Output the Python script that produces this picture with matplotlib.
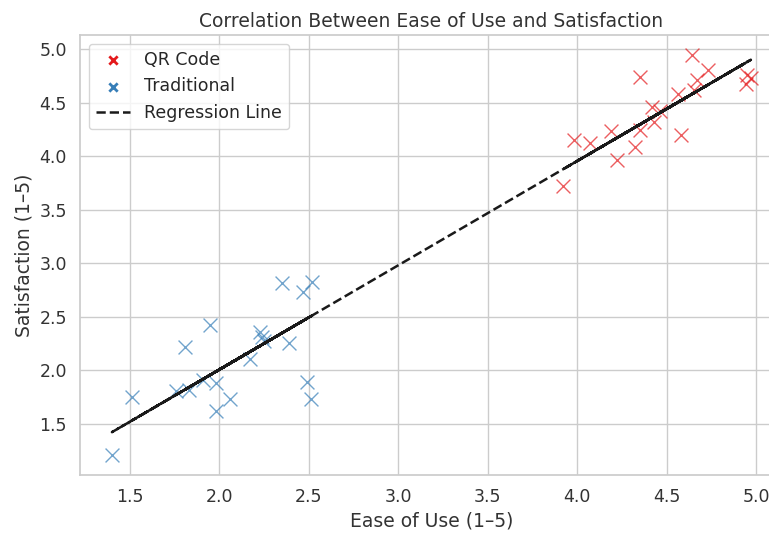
import matplotlib
matplotlib.use('Agg')
import matplotlib.pyplot as plt
import numpy as np
import seaborn as sns

sns.set_theme(style='whitegrid')
plt.rcParams['font.family'] = ['DejaVu Sans']

# Traditional group (ease, satisfaction), kept in survey order (not sorted)
trad_ease = [2.24, 1.40, 2.52, 1.76, 2.49, 1.51, 2.35, 1.98, 2.51, 1.81,
             2.23, 1.83, 2.47, 1.91, 2.39, 1.95, 2.17, 1.98, 2.25, 2.06]
trad_sat = [2.31, 1.21, 2.83, 1.81, 1.895, 1.755, 2.82, 1.62, 1.73, 2.22,
            2.36, 1.82, 2.73, 1.91, 2.26, 2.42, 2.11, 1.885, 2.27, 1.73]

# QR code group
qr_ease = [4.46, 3.92, 4.97, 4.07, 4.65, 3.98, 4.94, 4.22, 4.73, 4.19,
           4.58, 4.32, 4.95, 4.35, 4.64, 4.35, 4.67, 4.43, 4.56, 4.42]
qr_sat = [4.42, 3.72, 4.73, 4.12, 4.62, 4.15, 4.68, 3.965, 4.81, 4.24,
          4.20, 4.09, 4.76, 4.74, 4.945, 4.25, 4.71, 4.32, 4.58, 4.46]

x_all = np.array(qr_ease + trad_ease)
y_all = np.array(qr_sat + trad_sat)
slope, intercept = np.polyfit(x_all, y_all, 1)
# unsorted x, so the dashed line retraces itself inside each group
x_line = np.array(trad_ease + qr_ease)
y_line = slope * x_line + intercept

fig = plt.figure(figsize=(7.69, 5.33), dpi=100)
ax = fig.add_axes([0.104, 0.109, 0.914, 0.825])

ax.scatter(qr_ease, qr_sat, marker='x', s=100, color='#e41a1c', alpha=0.7,
           linewidths=1.0, label='QR Code')
ax.scatter(trad_ease, trad_sat, marker='x', s=100, color='#377eb8', alpha=0.7,
           linewidths=1.0, label='Traditional')
ax.plot(x_line, y_line, 'k--', linewidth=1.8, label='Regression Line')

ax.set_title('Correlation Between Ease of Use and Satisfaction', fontsize=13.5, color='#333333')
ax.set_xlabel('Ease of Use (1–5)', fontsize=13.5, color='#333333')
ax.set_ylabel('Satisfaction (1–5)', fontsize=13.5, color='#333333')
ax.tick_params(labelsize=12.5, colors='#333333')
ax.set_xticks([1.5, 2.0, 2.5, 3.0, 3.5, 4.0, 4.5, 5.0])
leg = ax.legend(loc='upper left', fontsize=12.5, markerscale=0.6)
for h in leg.legend_handles[:2]:
    h.set_alpha(1)
    h.set_linewidth(2)

fig.savefig('out.png', dpi=100)
